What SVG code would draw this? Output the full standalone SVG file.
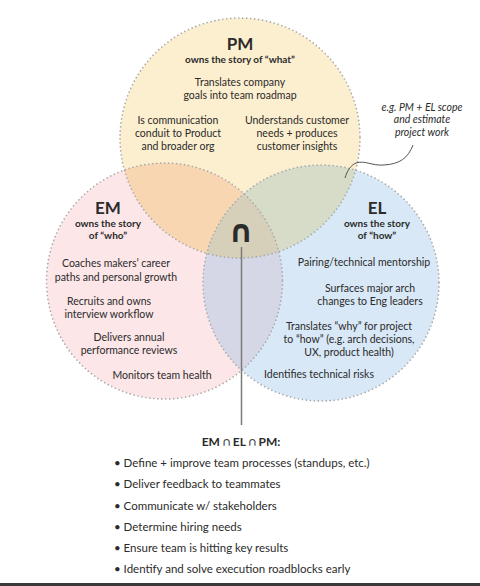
<svg xmlns="http://www.w3.org/2000/svg" width="480" height="586" viewBox="0 0 480 586">
<style>
.t{font-family:Lato,"Open Sans","Liberation Sans",sans-serif;fill:#2b2b2b;text-anchor:middle}
.h{font-size:17px;font-weight:700}
.s{font-size:10px;font-weight:700}
.b{font-size:10.5px}
.n{font-family:Lato,"Open Sans","Liberation Sans",sans-serif;font-size:10.5px;font-style:italic;fill:#2b2b2b;text-anchor:middle}
.l{font-family:Lato,"Open Sans","Liberation Sans",sans-serif;font-size:11.5px;fill:#2b2b2b}
.edge{fill:none;stroke:#a9a9a9;stroke-width:1.7;stroke-dasharray:0 4;stroke-linecap:round}
</style>
<defs>
<clipPath id="cPM"><circle cx="240" cy="138" r="120"/></clipPath>
<clipPath id="cEM"><circle cx="164.5" cy="281" r="118"/></clipPath>
<clipPath id="cEL"><circle cx="321" cy="283" r="118"/></clipPath>
</defs>
<rect width="480" height="586" fill="#ffffff"/>
<g id="areas">
<circle cx="240" cy="138" r="120" fill="#fcefcf"/>
<circle cx="164.5" cy="281" r="118" fill="#fce6e8"/>
<circle cx="321" cy="283" r="118" fill="#d8e8f6"/>
<circle cx="164.5" cy="281" r="118" fill="#f8d6b1" clip-path="url(#cPM)"/>
<circle cx="321" cy="283" r="118" fill="#d6dcc7" clip-path="url(#cPM)"/>
<circle cx="321" cy="283" r="118" fill="#d6d7e6" clip-path="url(#cEM)"/>
<g clip-path="url(#cPM)"><circle cx="321" cy="283" r="118" fill="#d6cfba" clip-path="url(#cEM)"/></g>
</g>
<g id="pm">
<circle class="edge" cx="240" cy="138" r="120"/>
<text class="t h" x="240" y="50">PM</text>
<text class="t s" x="240" y="63">owns the story of “what”</text>
<text class="t b" x="240" y="86">Translates company</text>
<text class="t b" x="240" y="99">goals into team roadmap</text>
<text class="t b" x="178" y="124">Is communication</text>
<text class="t b" x="178" y="137">conduit to Product</text>
<text class="t b" x="178" y="150">and broader org</text>
<text class="t b" x="297" y="124">Understands customer</text>
<text class="t b" x="297" y="137">needs + produces</text>
<text class="t b" x="297" y="150">customer insights</text>
</g>
<g id="em">
<circle class="edge" cx="164.5" cy="281" r="118"/>
<text class="t h" x="108" y="214">EM</text>
<text class="t s" x="108" y="227">owns the story</text>
<text class="t s" x="108" y="239">of “who”</text>
<text class="t b" x="116" y="267">Coaches makers’ career</text>
<text class="t b" x="116" y="281">paths and personal growth</text>
<text class="t b" x="109" y="305">Recruits and owns</text>
<text class="t b" x="109" y="318">interview workflow</text>
<text class="t b" x="129" y="341">Delivers annual</text>
<text class="t b" x="129" y="354">performance reviews</text>
<text class="t b" x="162" y="379">Monitors team health</text>
</g>
<g id="el">
<circle class="edge" cx="321" cy="283" r="118"/>
<text class="t h" x="377" y="214">EL</text>
<text class="t s" x="377" y="227">owns the story</text>
<text class="t s" x="377" y="239">of “how”</text>
<text class="t b" x="364" y="266">Pairing/technical mentorship</text>
<text class="t b" x="370" y="292">Surfaces major arch</text>
<text class="t b" x="370" y="305">changes to Eng leaders</text>
<text class="t b" x="349" y="330">Translates “why” for project</text>
<text class="t b" x="349" y="343">to “how” (e.g. arch decisions,</text>
<text class="t b" x="349" y="356">UX, product health)</text>
<text class="t b" x="319" y="378">Identifies technical risks</text>
</g>
<g id="center">
<text x="241" y="242" style="font-family:'DejaVu Sans',sans-serif;font-size:31px;font-weight:700;fill:#2b2b2b;text-anchor:middle">∩</text>
</g>
<g id="note">
<text class="n" x="422" y="111">e.g. PM + EL scope</text>
<text class="n" x="422" y="123">and estimate</text>
<text class="n" x="422" y="136">project work</text>
</g>
<g id="connectors" fill="none">
<path d="M241.5,247 V425" stroke="#7a7a7a" stroke-width="1.5"/>
<path d="M413,145 C408,158 400,164 384,165 C372,166 365,160 356,163 C351,165 347,171 345,178" stroke="#555" stroke-width="1"/>
</g>
<g id="summary">
<text class="t" x="241" y="446" style="font-size:12px;font-weight:700">EM ∩ EL ∩ PM:</text>
<g class="l">
<text x="114" y="467">• Define + improve team processes (standups, etc.)</text>
<text x="114" y="488">• Deliver feedback to teammates</text>
<text x="114" y="510">• Communicate w/ stakeholders</text>
<text x="114" y="531">• Determine hiring needs</text>
<text x="114" y="552">• Ensure team is hitting key results</text>
<text x="114" y="573">• Identify and solve execution roadblocks early</text>
</g>
</g>
<rect x="0" y="583" width="480" height="3" fill="#3a3a3a"/>
</svg>
